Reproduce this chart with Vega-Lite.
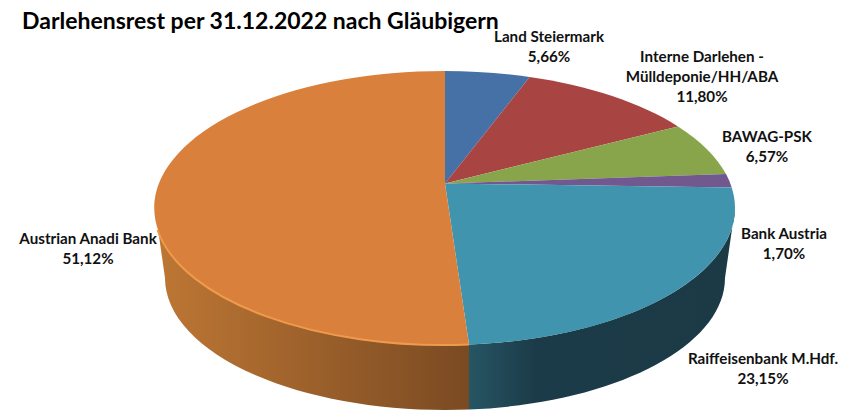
{"$schema":"https://vega.github.io/schema/vega-lite/v6.json","width":857,"height":410,"padding":0,"autosize":{"type":"none"},"background":"white","config":{"view":{"stroke":null},"font":"Lato"},
"title":{"text":"Darlehensrest per 31.12.2022 nach Gläubigern","anchor":"start","font":"Lato","fontSize":23,"fontWeight":"bold","color":"#000000","dx":22,"dy":34,"offset":0},
"data":{"values":[
{"glaeubiger":"Land Steiermark","anteil":5.66,"label":"Land Steiermark\n5,66%"},
{"glaeubiger":"Interne Darlehen","anteil":11.80,"label":"Interne Darlehen -\nMülldeponie/HH/ABA\n11,80%"},
{"glaeubiger":"BAWAG-PSK","anteil":6.57,"label":"BAWAG-PSK\n6,57%"},
{"glaeubiger":"Bank Austria","anteil":1.70,"label":"Bank Austria\n1,70%"},
{"glaeubiger":"Raiffeisenbank M.Hdf.","anteil":23.15,"label":"Raiffeisenbank M.Hdf.\n23,15%"},
{"glaeubiger":"Austrian Anadi Bank","anteil":51.12,"label":"Austrian Anadi Bank\n51,12%"}]},
"layer":[
{"transform":[{"filter":"datum.glaeubiger==='Austrian Anadi Bank'"}],
 "mark":{"type":"point","filled":true,"opacity":1,"size":4,"strokeWidth":0,"shape":"M-273.5 3 A290 137 0 0 0 40.5 139.5 L40.5 204.5 A280 132 0 0 1 -263.5 73 Z","fill":{"gradient":"linear","x1":0,"x2":1,"y1":0,"y2":0,"stops":[{"offset":0,"color":"#BE7734"},{"offset":1,"color":"#7A4A22"}]}}},
{"transform":[{"filter":"datum.glaeubiger==='Raiffeisenbank M.Hdf.'"}],
 "mark":{"type":"point","filled":true,"opacity":1,"size":4,"strokeWidth":0,"shape":"M40.5 139.5 A290 137 0 0 0 306.5 3 L296.5 73 A280 132 0 0 1 40.5 204.5 Z","fill":{"gradient":"linear","x1":0,"x2":1,"y1":0,"y2":0,"stops":[{"offset":0,"color":"#265564"},{"offset":0.25,"color":"#1C3B48"},{"offset":1,"color":"#1B3A46"}]}}},
{"mark":{"type":"point","filled":true,"opacity":1,"size":4,"strokeWidth":0},
 "encoding":{
  "shape":{"field":"glaeubiger","type":"nominal","legend":null,"scale":{"domain":["Land Steiermark","Interne Darlehen","BAWAG-PSK","Bank Austria","Raiffeisenbank M.Hdf.","Austrian Anadi Bank"],"range":[
   "M16.5 -21.5 L16.5 -134 A290 137 0 0 1 101.2 -128 Z",
   "M16.5 -21.5 L101.2 -128 A290 137 0 0 1 249.5 -78.6 Z",
   "M16.5 -21.5 L249.5 -78.6 A290 137 0 0 1 297.5 -30.9 Z",
   "M16.5 -21.5 L297.5 -30.9 A290 137 0 0 1 303.2 -17.6 Z",
   "M16.5 -21.5 L303.2 -17.6 A290 137 0 0 1 40.5 139.5 Z",
   "M16.5 -21.5 L40.5 139.5 A290 137 0 1 1 16.5 -134 Z"]}},
  "color":{"field":"glaeubiger","type":"nominal","legend":null,"scale":{"domain":["Land Steiermark","Interne Darlehen","BAWAG-PSK","Bank Austria","Raiffeisenbank M.Hdf.","Austrian Anadi Bank"],"range":["#4571A7","#A84543","#89A54C","#71598F","#4094AE","#D8803C"]}}}},
{"transform":[{"filter":"datum.glaeubiger==='Austrian Anadi Bank'"}],
 "mark":{"type":"point","filled":false,"opacity":1,"size":4,"strokeWidth":2,"stroke":"#F09A4C","shape":"M-271 25 A290 137 0 0 0 40.5 139.5"}},
{"mark":{"type":"text","font":"Lato","fontWeight":"bold","fontSize":15.2,"align":"center","baseline":"alphabetic","lineBreak":"\n","lineHeight":20,"color":"#111111"},
 "encoding":{
  "text":{"field":"label","type":"nominal"},
  "x":{"field":"anteil","type":"quantitative","axis":null,"scale":{"type":"linear","zero":false,"nice":false,"domain":[1.70,5.66,6.57,11.80,23.15,51.12],"range":[784,549,767,702,763,88]}},
  "y":{"field":"anteil","type":"quantitative","axis":null,"scale":{"type":"linear","zero":false,"nice":false,"domain":[1.70,5.66,6.57,11.80,23.15,51.12],"range":[239,42,142,62,364,244]}}}}
]}
